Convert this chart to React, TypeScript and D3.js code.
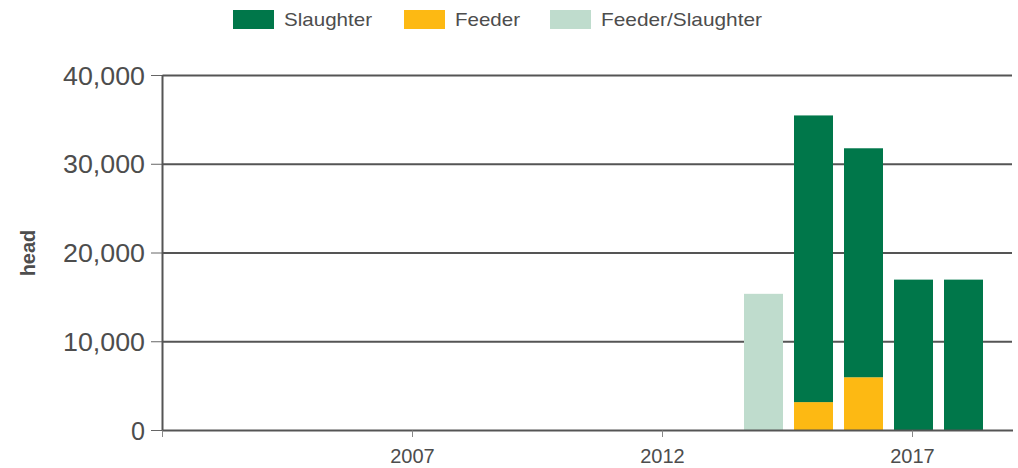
import React from "react";
import * as d3 from "d3";

const years = [2014, 2015, 2016, 2017, 2018];
const slaughter = [0, 32300, 25800, 17000, 17000];
const feeder = [0, 3200, 6000, 0, 0];
const feederSlaughter = [15400, 0, 0, 0, 0];
const yTicks = [0, 10000, 20000, 30000, 40000];
const xTicks = [2002, 2007, 2012, 2017];

const series = [
  { key: "feeder", label: "Feeder", color: "#FDB913", values: feeder },
  { key: "slaughter", label: "Slaughter", color: "#00774A", values: slaughter },
  { key: "fs", label: "Feeder/Slaughter", color: "#BFDCCD", values: feederSlaughter },
];

const legendItems = [
  { label: "Slaughter", color: "#00774A", x: 233, tw: 88 },
  { label: "Feeder", color: "#FDB913", x: 404, tw: 65 },
  { label: "Feeder/Slaughter", color: "#BFDCCD", x: 550, tw: 161 },
];

const W = 1018;
const H = 468;
const textColor = "#4d4d4d";

export default function App() {
  const x = d3.scaleLinear().domain([2002, 2019]).range([163.5, 1013.5]);
  const y = d3.scaleLinear().domain([0, 40000]).range([430.5, 75.5]);
  const barW = 39;

  const table = years.map((yr, i) => {
    const row: any = { year: yr };
    series.forEach((s) => (row[s.key] = s.values[i]));
    return row;
  });
  const stacked = d3.stack().keys(series.map((s) => s.key))(table);
  const fmt = d3.format(",");

  return (
    <svg width={W} height={H} style={{ position: "absolute", left: 0, top: 0 }}
      fontFamily="Arial, 'Liberation Sans', sans-serif">
      {/* legend */}
      {legendItems.map((d) => (
        <g key={d.label}>
          <rect x={d.x} y={10} width={41} height={19} fill={d.color} />
          <text x={d.x + 51} y={26} fontSize={19} fill={textColor}
            textLength={d.tw} lengthAdjust="spacingAndGlyphs">{d.label}</text>
        </g>
      ))}

      {/* grid + y axis */}
      {yTicks.map((t) => (
        <g key={t}>
          {t > 0 && (
            <line x1={162.5} x2={1012} y1={y(t)} y2={y(t)} stroke="#555" strokeWidth={2} />
          )}
          <line x1={151} x2={162.5} y1={y(t)} y2={y(t)} stroke="#666" strokeWidth={1} />
          <text x={145} y={y(t) + 9} textAnchor="end" fontSize={25} fill={textColor}
            textLength={t === 0 ? 14 : 82} lengthAdjust="spacingAndGlyphs">{fmt(t)}</text>
        </g>
      ))}
      <text transform={`translate(35,253) rotate(-90)`} textAnchor="middle" fontSize={20}
        fontWeight="bold" fill={textColor}>head</text>

      {/* bars */}
      {stacked.map((layer, li) => (
        <g key={layer.key} fill={series[li].color}>
          {layer.map((d, i) =>
            d[1] - d[0] > 0 ? (
              <rect key={i} x={x(years[i]) - barW / 2} width={barW}
                y={y(d[1])} height={y(d[0]) - y(d[1])} />
            ) : null
          )}
        </g>
      ))}

      {/* axes lines */}
      <line x1={162.5} x2={162.5} y1={75} y2={431} stroke="#555" strokeWidth={2} />
      <line x1={162} x2={1013} y1={430.5} y2={430.5} stroke="#555" strokeWidth={2} />
      {xTicks.map((t) => (
        <g key={t}>
          <line x1={x(t) - 1} x2={x(t) - 1} y1={430.5} y2={437} stroke="#888" strokeWidth={1} />
          {t !== 2002 && (
            <text x={x(t) - 1} y={463} textAnchor="middle" fontSize={20} fill={textColor}>{t}</text>
          )}
        </g>
      ))}
    </svg>
  );
}
